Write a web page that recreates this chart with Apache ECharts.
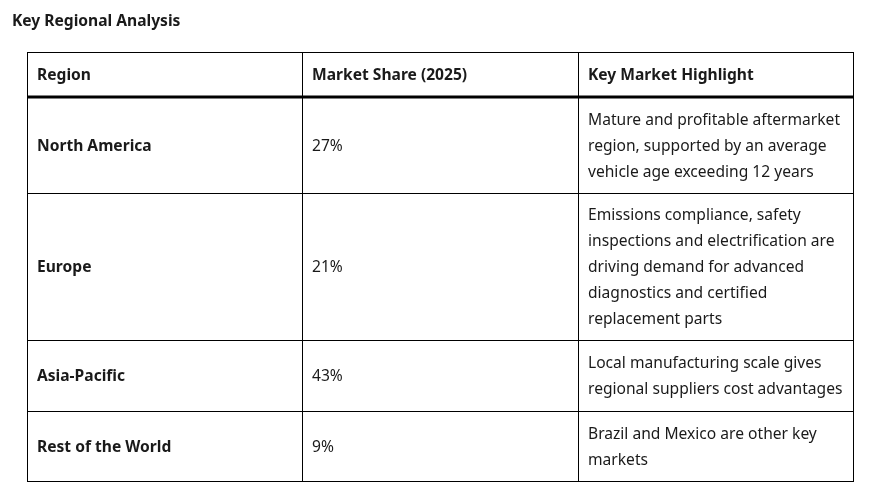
<!DOCTYPE html>
<html>
<head>
<meta charset="utf-8">
<script src="https://cdn.jsdelivr.net/npm/echarts@6/dist/echarts.min.js"></script>
<style>
    html, body { margin: 0; padding: 0; background: #fff; }
    #main { width: 881px; height: 496px; }
</style>
</head>
<body>
<div id="main"></div>
<script>
var title = 'Key Regional Analysis';
var headers = ['Region', 'Market Share (2025)', 'Key Market Highlight'];
var regions = ['North America', 'Europe', 'Asia-Pacific', 'Rest of the World'];
var shares = [27, 21, 43, 9];
var highlights = [
    ['Mature and profitable aftermarket', 'region, supported by an average', 'vehicle age exceeding 12 years'],
    ['Emissions compliance, safety', 'inspections and electrification are', 'driving demand for advanced', 'diagnostics and certified', 'replacement parts'],
    ['Local manufacturing scale gives', 'regional suppliers cost advantages'],
    ['Brazil and Mexico are other key', 'markets']
];

var chart = echarts.init(document.getElementById('main'), null, {renderer: 'canvas'});

//表格布局
var font = '"Noto Sans", "Open Sans", sans-serif';
var textColor = '#1a1a1a';
var tableLeft = 27, tableTop = 52;
var colWidths = [275, 276, 275];
var headerH = 45, lineH = 25.5, padV = 19.5, padL = 10, textDy = 1.5;
var fontSize = 15.6;

function build() {
    var els = [];
    var colX = [tableLeft];
    for (var i = 0; i < colWidths.length; i++) {
        colX.push(colX[i] + colWidths[i]);
    }
    var right = colX[colX.length - 1];

    els.push({
        type: 'text',
        style: {
            text: title, x: 12, y: 21.5, fill: textColor,
            fontFamily: font, fontSize: fontSize, fontWeight: 'bold',
            verticalAlign: 'middle'
        }
    });

    // header
    for (var c = 0; c < headers.length; c++) {
        els.push({
            type: 'text',
            style: {
                text: headers[c], x: colX[c] + padL, y: tableTop + headerH / 2 + textDy,
                fill: textColor, fontFamily: font, fontSize: fontSize, fontWeight: 'bold',
                verticalAlign: 'middle'
            }
        });
    }

    var rowY = [tableTop, tableTop + headerH];
    var acc = tableTop + headerH;
    for (var r = 0; r < regions.length; r++) {
        acc += highlights[r].length * lineH + padV;
        rowY.push(Math.round(acc));
    }
    var bottom = rowY[rowY.length - 1];

    for (var r = 0; r < regions.length; r++) {
        var cy = (rowY[r + 1] + rowY[r + 2]) / 2 + textDy;
        var cells = [regions[r], shares[r] + '%', highlights[r].join('\n')];
        for (var c = 0; c < cells.length; c++) {
            els.push({
                type: 'text',
                style: {
                    text: cells[c], x: colX[c] + padL, y: cy,
                    fill: textColor, fontFamily: font, fontSize: fontSize,
                    fontWeight: c === 0 ? 'bold' : 'normal',
                    lineHeight: c === 2 ? 26 : lineH, verticalAlign: 'middle'
                }
            });
        }
    }

    // 边框
    var lineStyle = {stroke: '#000', lineWidth: 1};
    for (var i = 0; i < rowY.length; i++) {
        if (i === 1) continue;
        els.push({type: 'line', shape: {x1: tableLeft, y1: rowY[i] + 0.5, x2: right, y2: rowY[i] + 0.5}, style: lineStyle});
    }
    els.push({type: 'line', shape: {x1: tableLeft, y1: rowY[1], x2: right, y2: rowY[1]}, style: {stroke: '#000', lineWidth: 3}});
    for (var i = 0; i < colX.length; i++) {
        els.push({type: 'line', shape: {x1: colX[i] + 0.5, y1: tableTop, x2: colX[i] + 0.5, y2: bottom + 1}, style: lineStyle});
    }
    return els;
}

chart.setOption({
    backgroundColor: '#fff',
    animation: false,
    graphic: build()
});
</script>
</body>
</html>
